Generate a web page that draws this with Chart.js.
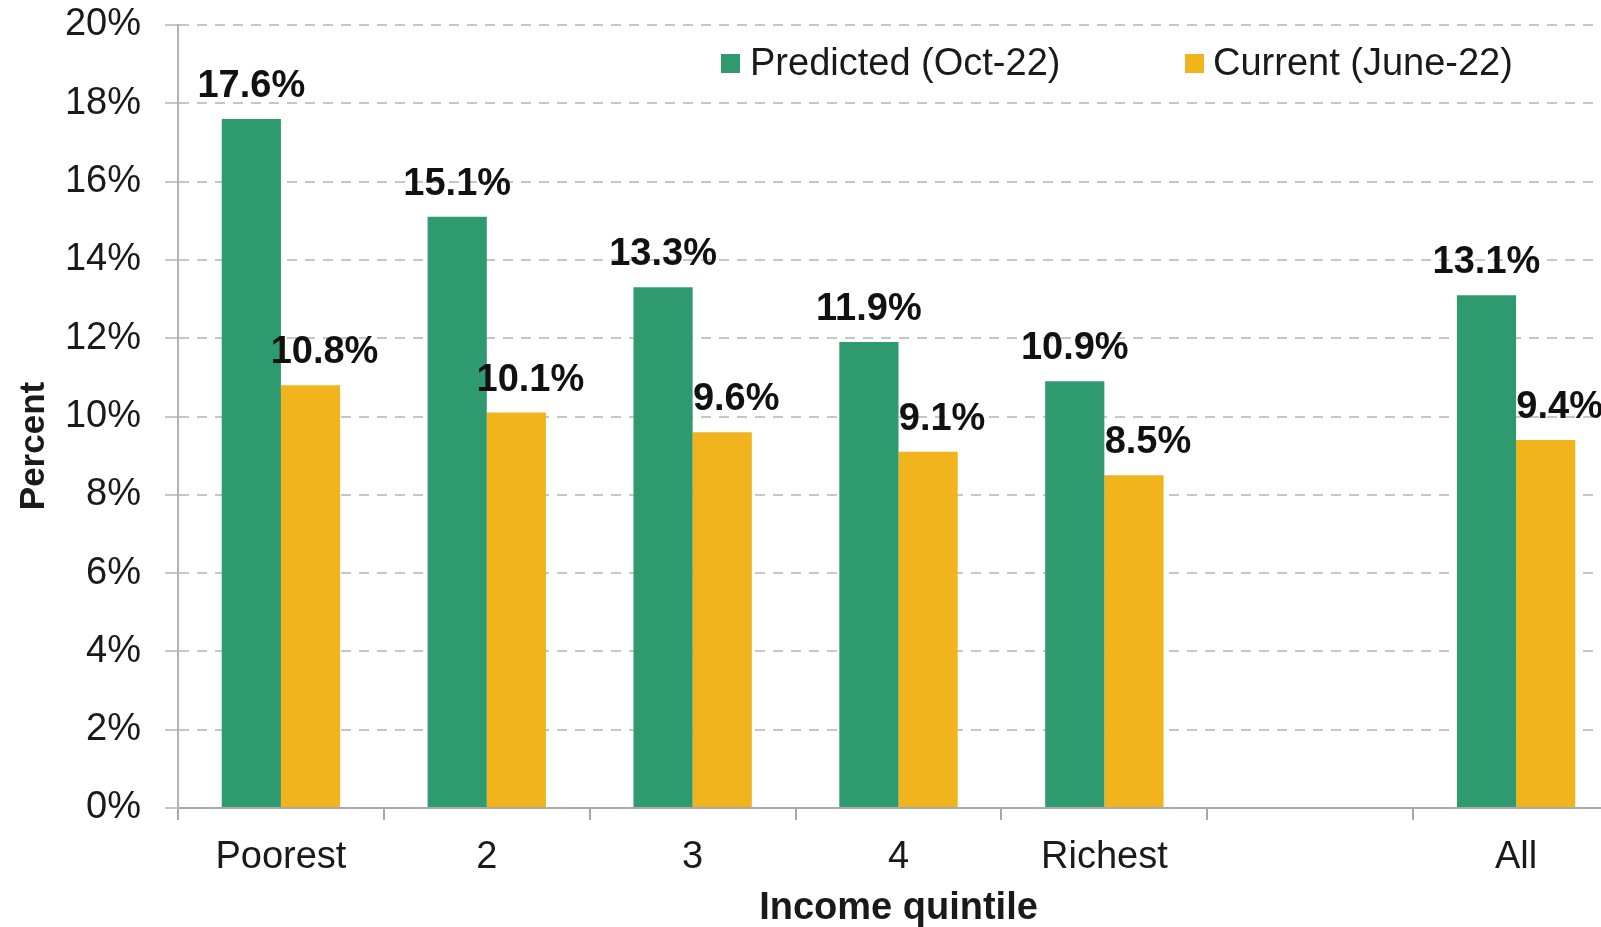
<!DOCTYPE html>
<html>
<head>
<meta charset="utf-8">
<title>Predicted vs current inflation by income quintile</title>
<script src="https://cdn.jsdelivr.net/npm/chart.js@4.4.1/dist/chart.umd.min.js"></script>
<style>
    html, body { margin: 0; padding: 0; background: #fff; overflow: hidden; }
    #wrap { width: 1625px; height: 927px; }
</style>
</head>
<body>
<div id="wrap"><canvas id="chart" width="1625" height="927"></canvas></div>
<script>
// Chart data
const categories = ['Poorest', '2', '3', '4', 'Richest', '', 'All'];
const predicted = [17.6, 15.1, 13.3, 11.9, 10.9, null, 13.1];
const current = [10.8, 10.1, 9.6, 9.1, 8.5, null, 9.4];
const seriesNames = ['Predicted (Oct-22)', 'Current (June-22)'];
const yTicks = [0, 2, 4, 6, 8, 10, 12, 14, 16, 18, 20];

const GREEN = '#2f9a70';
const YELLOW = '#f1b41d';
const FONT = "'Liberation Sans', Arial, Helvetica, sans-serif";

// Value labels, legend and y title drawn on top
const extras = {
    id: 'extras',
    afterDatasetsDraw(chart) {
        const ctx = chart.ctx;
        ctx.save();
        ctx.font = 'bold 38px ' + FONT;
        ctx.fillStyle = '#111';
        ctx.textAlign = 'center';
        ctx.textBaseline = 'alphabetic';
        chart.data.datasets.forEach((ds, di) => {
            const meta = chart.getDatasetMeta(di);
            meta.data.forEach((bar, i) => {
                const v = ds.data[i];
                if (v === null) return;
                const shift = di === 1 ? 14 : 0;
                ctx.fillText(v.toFixed(1) + '%', bar.x + shift, bar.y - 22);
            });
        });

        // legend
        const items = [{x: 721, tx: 750}, {x: 1185, tx: 1213}];
        ctx.font = '38px ' + FONT;
        ctx.textAlign = 'left';
        ctx.textBaseline = 'middle';
        items.forEach((it, i) => {
            ctx.fillStyle = chart.data.datasets[i].backgroundColor;
            ctx.fillRect(it.x, 54, 19, 19);
            ctx.fillStyle = '#1a1a1a';
            ctx.fillText(seriesNames[i], it.tx, 65);
        });

        // y axis title
        ctx.translate(34, 446);
        ctx.rotate(-Math.PI / 2);
        ctx.font = 'bold 35px ' + FONT;
        ctx.textAlign = 'center';
        ctx.fillStyle = '#1a1a1a';
        ctx.fillText('Percent', 0, 0);
        ctx.restore();
    }
};

new Chart(document.getElementById('chart'), {
    type: 'bar',
    data: {
        labels: categories,
        datasets: [{
            label: seriesNames[0],
            data: predicted,
            backgroundColor: GREEN,
            categoryPercentage: 0.575,
            barPercentage: 1.0
        }, {
            label: seriesNames[1],
            data: current,
            backgroundColor: YELLOW,
            categoryPercentage: 0.575,
            barPercentage: 1.0
        }]
    },
    options: {
        responsive: false,
        animation: false,
        layout: { padding: { top: 25, right: 6, left: 0, bottom: 0 } },
        plugins: {
            legend: { display: false },
            tooltip: { enabled: false }
        },
        scales: {
            x: {
                afterFit: (scale) => {
                    scale.height = 119;
                    scale.paddingLeft = 0;
                    scale.paddingRight = 0;
                },
                grid: {
                    offset: true,
                    drawOnChartArea: false,
                    tickLength: 12,
                    color: '#a8a8a8',
                    lineWidth: 2
                },
                border: { color: '#a8a8a8', width: 2 },
                ticks: {
                    color: '#1a1a1a',
                    padding: 15,
                    font: { family: FONT, size: 38 }
                },
                title: {
                    display: true,
                    text: 'Income quintile',
                    color: '#1a1a1a',
                    padding: { top: 0, bottom: -4 },
                    font: { family: FONT, size: 38, weight: 'bold' }
                }
            },
            y: {
                min: 0,
                max: 20,
                afterFit: (scale) => {
                    scale.width = 178;
                    scale.paddingTop = 0;
                    scale.paddingBottom = 0;
                },
                afterBuildTicks: (scale) => { scale.ticks = yTicks.map(v => ({ value: v })); },
                grid: {
                    color: '#c6c6c6',
                    lineWidth: 2,
                    tickLength: 13,
                    tickColor: '#c6c6c6'
                },
                border: { color: '#b4b4b4', width: 2, dash: [10, 8] },
                ticks: {
                    color: '#1a1a1a',
                    padding: 24,
                    font: { family: FONT, size: 38 },
                    callback: (v) => v + '%'
                }
            }
        }
    },
    plugins: [extras]
});
</script>
</body>
</html>
